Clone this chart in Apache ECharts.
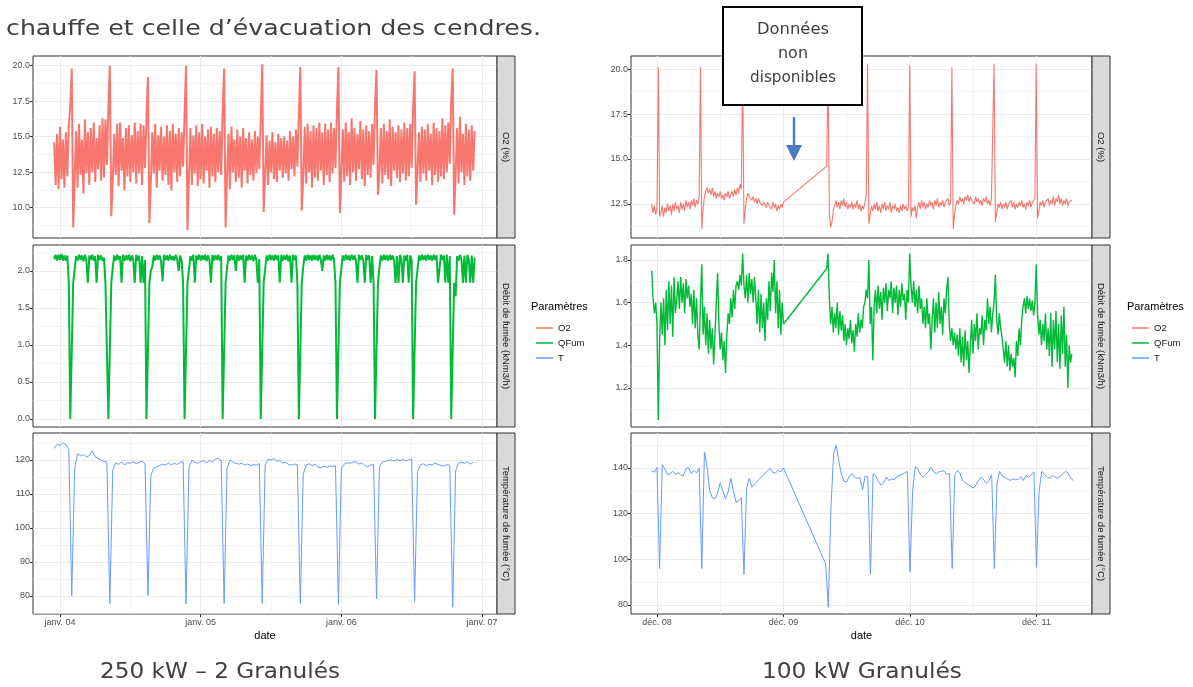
<!DOCTYPE html>
<html>
<head>
<meta charset="utf-8">
<script src="https://cdn.jsdelivr.net/npm/echarts@6/dist/echarts.min.js"></script>
<style>
  html, body { margin: 0; padding: 0; background: #fff; }
  #main { width: 1193px; height: 687px; }
</style>
</head>
<body>
<div id="main"></div>
<script>
// time is in hours since midnight of the first labelled day
const hourTicks = [0, 24, 48, 72];
const hourMinorTicks = [12, 36, 60];
const leftDayLabels = ['janv. 04', 'janv. 05', 'janv. 06', 'janv. 07'];
const rightDayLabels = ['déc. 08', 'déc. 09', 'déc. 10', 'déc. 11'];
const paramNames = ['O2', 'QFum', 'T'];
const facetLabels = ['O2 (%)', 'Débit de fumée (kNm3/h)', 'Température de fumée (°C)'];

// y ticks (major / minor) per facet
const o2LeftTicks = [10, 12.5, 15, 17.5, 20];
const o2LeftMinor = [8.75, 11.25, 13.75, 16.25, 18.75];
const qfumLeftTicks = [0, 0.5, 1, 1.5, 2];
const qfumLeftMinor = [0.25, 0.75, 1.25, 1.75, 2.25];
const tLeftTicks = [80, 90, 100, 110, 120];
const tLeftMinor = [75, 85, 95, 105, 115, 125];
const o2RightTicks = [12.5, 15, 17.5, 20];
const o2RightMinor = [11.25, 13.75, 16.25, 18.75];
const qfumRightTicks = [1.2, 1.4, 1.6, 1.8];
const qfumRightMinor = [1.1, 1.3, 1.5, 1.7];
const tRightTicks = [80, 100, 120, 140];
const tRightMinor = [90, 110, 130, 150];

// 250 kW - 2 granulés : O2 and QFum every 15 min from -1 h, T every 30 min from -1 h
const o2Left = [
  14.6, 11.6, 15.2, 11.3, 15.7, 12.0, 14.8, 11.4, 15.3, 12.2, 15.8, 17.2,
  19.8, 8.6, 12.0, 15.4, 11.4, 15.9, 12.3, 14.8, 11.0, 16.2, 12.4, 15.3, 11.6, 15.6, 12.5, 16.0, 11.8, 14.9, 12.7, 15.8, 11.9, 16.3, 12.1, 16.2, 13.0, 17.0,
  20.0, 9.4, 11.9, 15.2, 12.3, 15.9, 11.5, 16.0, 12.6, 14.9, 11.2, 15.6, 12.2, 15.8, 11.8, 15.1, 12.5, 16.0, 11.7, 15.4, 12.4, 15.9, 11.6, 15.8, 12.8, 16.4,
  19.2, 8.9, 11.8, 15.3, 12.4, 15.9, 11.4, 15.1, 12.6, 15.7, 11.9, 15.0, 12.3, 15.8, 11.6, 15.4, 11.2, 15.9, 12.5, 15.2, 11.8, 15.6, 12.2, 15.3, 12.9, 16.6,
  20.0, 8.4, 12.1, 15.6, 11.6, 15.1, 12.4, 15.8, 11.5, 15.3, 12.0, 15.9, 11.7, 15.0, 12.6, 15.5, 11.4, 15.7, 12.2, 15.2, 11.8, 15.6, 12.5, 15.4, 12.3, 16.8,
  19.8, 8.6, 12.2, 15.2, 11.3, 15.7, 12.5, 14.8, 11.8, 15.5, 12.1, 15.0, 11.4, 15.6, 12.6, 14.9, 11.7, 15.3, 12.3, 14.8, 11.9, 15.4, 12.4, 15.0, 12.7, 16.2,
  20.1, 9.7, 12.3, 15.1, 11.6, 14.7, 12.5, 15.3, 12.0, 14.6, 11.8, 15.2, 12.6, 14.9, 12.1, 15.0, 12.4, 14.7, 11.9, 15.4, 12.7, 15.0, 12.2, 15.5, 12.9, 16.5,
  19.9, 9.8, 12.2, 15.7, 11.7, 15.9, 12.5, 15.4, 11.4, 15.8, 12.1, 15.6, 11.9, 16.0, 12.6, 15.3, 11.6, 15.9, 12.3, 15.5, 11.8, 16.0, 12.4, 15.6, 12.8, 16.8,
  19.9, 9.6, 12.4, 15.5, 11.8, 16.0, 12.2, 15.3, 11.6, 16.3, 12.5, 15.6, 11.9, 15.2, 12.7, 16.1, 12.0, 15.5, 11.5, 15.8, 12.3, 15.4, 12.1, 15.9, 13.0, 17.2,
  19.7, 10.9, 12.5, 15.6, 11.7, 15.9, 12.3, 15.4, 12.0, 16.2, 11.5, 15.7, 12.6, 15.3, 12.1, 15.8, 11.8, 15.5, 12.4, 16.0, 11.9, 15.6, 12.2, 15.9, 12.8, 17.0,
  19.6, 10.2, 12.6, 15.3, 11.8, 15.7, 12.4, 15.5, 11.9, 15.9, 12.6, 15.2, 11.6, 16.0, 12.3, 15.6, 11.8, 15.4, 12.2, 16.3, 12.0, 15.8, 12.5, 16.0, 13.1, 17.5,
  19.8, 9.5, 12.3, 15.6, 11.7, 16.4, 12.5, 15.2, 11.6, 15.9, 12.2, 15.5, 11.9, 15.8, 12.6, 15.4
];
const qfumLeft = [
  2.16, 2.22, 2.14, 2.22, 2.15, 2.23, 2.14, 2.21, 2.14, 2.21, 1.84, 0,
  0, 1.84, 2.02, 2.20, 2.14, 2.22, 2.15, 2.21, 2.13, 2.22, 2.14, 1.84, 2.21, 2.15, 2.22, 2.14, 2.20, 1.84, 2.22, 2.15, 2.21, 2.14, 2.18, 1.84, 1.84, 0,
  0, 1.84, 2.05, 2.21, 2.14, 2.22, 2.15, 2.20, 1.84, 2.22, 2.14, 2.21, 2.15, 2.22, 2.13, 2.21, 2.15, 1.84, 2.22, 2.14, 2.21, 1.84, 2.20, 1.84, 2.15, 0,
  0, 1.84, 2.00, 2.06, 2.21, 2.14, 2.22, 2.15, 2.21, 2.13, 1.86, 2.22, 2.15, 2.21, 2.14, 2.22, 2.15, 2.20, 2.14, 2.22, 2.15, 2.00, 2.21, 2.14, 1.84, 0,
  0, 1.84, 1.84, 2.20, 2.14, 2.22, 1.84, 2.21, 2.15, 2.22, 2.14, 2.21, 2.15, 2.22, 2.13, 2.21, 2.15, 1.84, 2.22, 2.14, 2.21, 2.15, 2.22, 2.14, 2.20, 0,
  0, 1.84, 2.04, 2.21, 2.14, 2.22, 2.15, 2.21, 2.00, 2.22, 2.14, 2.21, 2.15, 2.22, 1.84, 2.21, 2.14, 2.22, 2.15, 2.21, 2.13, 2.22, 2.15, 1.84, 2.16, 0,
  0, 1.84, 2.02, 2.21, 2.14, 2.22, 2.15, 2.21, 2.14, 2.22, 2.15, 2.21, 1.84, 2.22, 2.14, 2.21, 2.15, 2.22, 2.13, 2.21, 1.84, 2.22, 2.15, 2.21, 1.84, 0,
  0, 1.84, 2.06, 2.21, 2.14, 2.22, 2.15, 2.21, 2.14, 2.22, 2.15, 2.21, 2.14, 2.22, 2.15, 2.00, 2.21, 2.14, 2.22, 2.15, 2.21, 2.14, 2.22, 2.15, 1.84, 0,
  0, 1.84, 2.03, 2.21, 2.14, 2.22, 2.15, 2.21, 2.14, 2.22, 2.15, 2.21, 2.14, 1.84, 2.22, 2.15, 2.21, 2.14, 1.84, 2.22, 2.15, 2.21, 1.84, 2.20, 1.84, 0,
  0, 1.84, 2.05, 2.21, 2.14, 2.22, 2.15, 2.21, 2.14, 2.22, 2.15, 2.21, 2.14, 1.84, 2.20, 1.84, 2.22, 2.15, 1.84, 2.21, 2.14, 2.22, 1.84, 2.21, 2.15, 0,
  0, 1.84, 2.02, 2.21, 2.14, 2.22, 2.15, 2.21, 2.14, 2.22, 2.15, 2.21, 2.14, 2.22, 2.15, 2.21, 1.84, 1.84, 2.22, 2.15, 2.21, 1.84, 2.22, 1.84, 2.20, 0,
  0, 1.84, 1.66, 2.20, 2.14, 2.22, 2.15, 1.84, 2.21, 1.84, 2.22, 2.15, 1.84, 2.21, 1.84, 2.18
];
const tLeft = [
  123.4, 124.6, 124.3, 125.1, 124.5, 123.0,
  80.1, 117.5, 121.8, 121.2, 121.6, 120.9, 121.3, 122.6, 121.0, 120.4, 119.9, 119.6, 119.4,
  77.8, 117.0, 119.2, 118.7, 119.4, 118.5, 119.2, 119.0, 119.5, 118.9, 119.3, 119.6, 119.0,
  80.1, 115.5, 117.6, 118.0, 118.4, 118.7, 118.5, 119.1, 118.6, 119.0, 118.7, 119.3, 119.5,
  77.6, 117.8, 119.9, 119.4, 119.0, 119.6, 119.8, 119.2, 119.9, 119.4, 120.2, 120.5, 119.8,
  77.8, 117.5, 120.0, 119.4, 119.0, 118.8, 119.0, 118.5, 118.8, 118.4, 118.6, 118.5, 118.9,
  77.8, 118.5, 120.2, 120.0, 120.4, 119.7, 119.8, 119.1, 119.3, 118.7, 118.5, 118.8, 118.6,
  77.8, 115.8, 118.5, 118.9, 118.3, 118.8, 117.9, 117.7, 118.2, 117.8, 118.3, 118.0, 118.4,
  77.5, 117.6, 118.8, 119.2, 119.0, 119.4, 119.5, 118.8, 119.2, 118.4, 118.0, 118.5, 118.7,
  79.2, 118.0, 119.4, 119.6, 119.9, 120.0, 119.7, 120.1, 119.8, 120.2, 119.7, 120.0, 120.3,
  78.4, 116.5, 118.6, 118.9, 118.3, 118.8, 118.5, 119.1, 118.7, 118.4, 118.2, 118.6, 118.5,
  76.7, 116.8, 119.1, 119.4, 119.0, 119.5, 118.8, 119.4
];

// 100 kW granulés : part A from -1 h, part B after the missing data
// O2 and QFum every 15 min (B from 32.2 h), T every 30 min (B from 32 h)
const o2RightA = [
  12.5, 12.0, 12.4, 11.9, 12.3,
  20.1, 11.8,
  12.0, 12.4, 11.8, 12.3, 12.0, 12.5, 12.1, 12.4, 11.9, 12.5, 12.1, 12.6, 12.2, 12.4, 12.0, 12.6, 12.2, 12.5, 12.1, 12.7, 12.3, 12.6, 12.2, 12.7, 12.4, 12.8, 12.3, 12.7, 12.5, 12.9,
  20.1, 11.1,
  12.2, 12.9, 13.2, 13.4, 13.1, 13.3, 13.0, 13.4, 12.9, 13.2, 12.8, 13.1, 12.9, 13.2, 12.8, 13.0, 12.7, 13.1, 12.9, 13.2, 12.8, 13.0, 13.2, 12.9, 13.3, 13.0, 13.4, 13.1, 13.6, 13.3,
  20.0, 11.4,
  12.2, 12.8, 13.1, 12.9, 13.0, 12.7, 12.9, 12.6, 12.8, 12.5, 12.8, 12.6, 12.7, 12.4, 12.6, 12.5, 12.3, 12.6, 12.4, 12.5, 12.2, 12.6, 12.3, 12.5, 12.1, 12.4, 12.2, 12.5, 12.3, 12.6
];
const o2RightB = [
  14.6, 20.0,
  12.0, 11.2, 11.5, 12.1, 12.4, 12.7, 12.3, 12.6, 12.2, 12.7, 12.4, 12.8, 12.3, 12.6, 12.2, 12.5, 12.3, 12.6, 12.2, 12.5, 12.3, 12.7, 12.2, 12.5, 12.1, 12.4, 12.2, 12.6, 12.9,
  20.3,
  11.4, 11.9, 12.4, 12.1, 12.5, 12.2, 12.6, 12.1, 12.4, 12.0, 12.5, 12.2, 12.6, 12.1, 12.4, 12.2, 12.6, 12.0, 12.4, 12.2, 12.5, 12.1, 12.3, 12.0, 12.4, 12.1, 12.5, 12.2, 12.4, 12.1, 12.3,
  20.2,
  11.8, 12.3, 12.1, 12.4, 11.7, 12.3, 12.6, 12.2, 12.7, 12.3, 12.6, 12.2, 12.5, 12.3, 12.7, 12.4, 12.6, 12.2, 12.7, 12.4, 12.8, 12.3, 12.6, 12.4, 12.7, 12.3, 12.6, 12.5, 12.8, 12.4, 12.6,
  20.1,
  11.1, 11.9, 12.4, 12.7, 12.5, 12.9, 12.6, 12.8, 12.5, 12.9, 12.7, 13.0, 12.6, 12.9, 12.7, 12.8, 12.5, 12.9, 12.6, 12.8, 12.5, 12.7, 12.4, 12.8, 12.6, 12.9, 12.5, 12.7, 12.4, 12.8, 12.9,
  20.3,
  11.5, 12.0, 12.5, 12.3, 12.6, 12.2, 12.5, 12.3, 12.6, 12.2, 12.5, 12.4, 12.7, 12.3, 12.6, 12.2, 12.5, 12.3, 12.6, 12.4, 12.7, 12.3, 12.5, 12.2, 12.6, 12.4, 12.7, 12.3, 12.6, 12.5, 12.8,
  20.3,
  11.7, 12.1, 12.6, 12.4, 12.7, 12.3, 12.6, 12.5, 12.8, 12.4, 12.7, 12.5, 12.9, 12.4, 12.8, 12.6, 13.0, 12.5, 12.8, 12.4, 12.7, 12.5, 12.8, 12.4, 12.6, 12.5, 12.7
];
const qfumRightA = [
  1.75, 1.62, 1.55, 1.60, 1.50,
  1.05,
  1.42, 1.60, 1.45, 1.62, 1.40, 1.66, 1.47, 1.70, 1.50, 1.68, 1.44, 1.72, 1.55,
  1.62, 1.70, 1.57, 1.72, 1.60, 1.69, 1.55, 1.71, 1.62, 1.68, 1.58,
  1.64, 1.50, 1.66, 1.48, 1.62, 1.45, 1.38, 1.60,
  1.78,
  1.45, 1.58, 1.40, 1.55, 1.36, 1.52, 1.38, 1.48, 1.31, 1.45, 1.60,
  1.74,
  1.50, 1.38, 1.46, 1.33, 1.42, 1.27,
  1.45, 1.55, 1.50, 1.62, 1.53, 1.66, 1.57, 1.68,
  1.70, 1.66, 1.73, 1.68,
  1.83,
  1.68, 1.62, 1.73, 1.60, 1.74, 1.64, 1.71, 1.60, 1.72, 1.62,
  1.50, 1.66, 1.46, 1.64, 1.48, 1.60, 1.42,
  1.62, 1.52, 1.70, 1.56, 1.74, 1.65,
  1.80,
  1.55, 1.70, 1.48, 1.66, 1.45, 1.60, 1.50
];
const qfumRightB = [
  1.76, 1.83,
  1.62, 1.50, 1.58, 1.46, 1.55, 1.48, 1.60, 1.45, 1.56, 1.47, 1.54,
  1.42, 1.50, 1.40, 1.48, 1.43, 1.52, 1.41, 1.47, 1.37,
  1.50, 1.44, 1.55, 1.46, 1.52, 1.48, 1.58, 1.60,
  1.66, 1.62, 1.80,
  1.50, 1.58, 1.33,
  1.58, 1.66, 1.55, 1.68, 1.57, 1.65, 1.52, 1.67, 1.60, 1.69, 1.56, 1.66, 1.62, 1.70, 1.55, 1.67, 1.60, 1.68, 1.54, 1.66, 1.58, 1.69, 1.61, 1.64, 1.52, 1.66, 1.60,
  1.83,
  1.68, 1.60, 1.70, 1.58, 1.66, 1.55, 1.68, 1.57, 1.62, 1.50,
  1.58, 1.48, 1.62, 1.50, 1.55, 1.38,
  1.52, 1.62, 1.46, 1.60, 1.48, 1.65, 1.50, 1.58, 1.45, 1.62, 1.55, 1.66,
  1.72,
  1.50, 1.42, 1.48, 1.40, 1.46, 1.38,
  1.45, 1.35, 1.48, 1.32, 1.44, 1.30, 1.47, 1.33, 1.42, 1.27,
  1.40, 1.52, 1.36, 1.50, 1.42, 1.55, 1.38, 1.48, 1.45, 1.54, 1.40, 1.52, 1.47, 1.62,
  1.50, 1.58, 1.46, 1.55, 1.60,
  1.73,
  1.52, 1.45, 1.55, 1.48, 1.44,
  1.38, 1.32, 1.42, 1.30, 1.40, 1.28, 1.36, 1.30, 1.34, 1.25,
  1.42, 1.35, 1.48, 1.40, 1.52,
  1.58, 1.62, 1.55, 1.63, 1.57, 1.62, 1.56, 1.61, 1.54, 1.60,
  1.78,
  1.55, 1.45, 1.52, 1.40, 1.50, 1.42, 1.55, 1.38, 1.48,
  1.35, 1.55, 1.30, 1.52, 1.38, 1.56, 1.32, 1.50, 1.29, 1.54, 1.36, 1.58, 1.30, 1.45, 1.20,
  1.40, 1.32, 1.36
];
const tRightA = [
  138.5, 138.2, 140.2, 96.0, 141.5, 139.5, 137.0,
  137.5, 138.5, 137.2, 138.0, 137.0, 136.5, 139.8, 140.2, 137.5, 139.0, 137.8, 140.0,
  96.0,
  147.0, 140.5, 130.0, 127.0, 126.5, 129.0, 133.5, 130.0, 126.5, 129.5, 135.5, 130.0, 125.0, 125.5, 127.0,
  93.5,
  131.0, 135.5, 131.5, 133.0, 134.0, 135.5, 136.5, 137.5, 139.0, 139.8, 138.0, 137.8, 139.0, 138.3, 140.0
];
const tRightB = [
  98.0, 79.0, 122.0, 146.0, 150.0, 143.0, 137.0, 134.0, 134.0, 136.5, 137.5, 135.8, 135.5, 135.8, 130.5, 136.5, 136.0,
  93.5,
  137.5, 136.5, 134.0, 132.5, 133.5, 136.0, 134.5, 135.2, 134.8, 136.2, 136.8, 137.2, 137.8, 138.5,
  94.5,
  130.0, 140.5, 139.5, 137.0, 136.0, 137.2, 138.5, 140.3, 138.2, 137.5, 138.3, 138.6, 138.8, 137.2, 137.6,
  96.0,
  137.0, 139.0, 137.5, 134.5, 133.5, 132.8, 132.0, 131.2, 132.5, 134.5, 136.0, 134.8, 133.2, 134.5, 137.0,
  96.0,
  133.0, 138.5, 136.5, 135.8, 135.2, 134.5, 135.2, 134.8, 135.0, 136.2, 134.5, 136.8, 136.0, 137.0, 138.3,
  96.5,
  130.0, 138.5, 137.2, 136.0, 135.5, 136.8, 136.0, 135.5, 136.4, 137.5, 138.5, 137.8, 135.5, 134.5
];

// -------------------------------------------------------------------------

function toPoints(start, step, values) {
  return values.map((v, i) => [start + i * step, v]);
}

// slide text is Century Gothic in the original: use DejaVu Sans stretched to the same width
const measureCtx = document.createElement('canvas').getContext('2d');
function stretch(text, size, family, targetWidth) {
  measureCtx.font = size + 'px ' + family;
  return targetWidth / measureCtx.measureText(text).width;
}

const COLORS = ['#F8766D', '#00BA38', '#619CFF'];
const FONT = '"Liberation Sans", Arial, sans-serif';
const DECO = '"DejaVu Sans"';

const rows = [{ top: 56, height: 182 }, { top: 245, height: 182 }, { top: 433, height: 181 }];

const sides = [
  {
    left: 33, width: 464, xMin: -4.61, xMax: 74.56, labels: leftDayLabels,
    data: [toPoints(-1, 0.25, o2Left), toPoints(-1, 0.25, qfumLeft), toPoints(-1, 0.5, tLeft)],
    widths: [2, 2, 1],
    y: [
      { min: 7.86, max: 20.68, major: o2LeftTicks, minor: o2LeftMinor, digits: 1 },
      { min: -0.108, max: 2.351, major: qfumLeftTicks, minor: qfumLeftMinor, digits: 1 },
      { min: 74.7, max: 127.94, major: tLeftTicks, minor: tLeftMinor, digits: 0 }
    ],
    legendX: 531, title: '250 kW – 2 Granulés', titleX: 220, titleW: 240
  },
  {
    left: 631, width: 461, xMin: -4.93, xMax: 82.53, labels: rightDayLabels,
    data: [
      toPoints(-1, 0.25, o2RightA).concat(toPoints(32.2, 0.25, o2RightB)),
      toPoints(-1, 0.25, qfumRightA).concat(toPoints(32.2, 0.25, qfumRightB)),
      toPoints(-1, 0.5, tRightA).concat(toPoints(32, 0.5, tRightB))
    ],
    widths: [1.1, 1.4, 1],
    y: [
      { min: 10.6, max: 20.73, major: o2RightTicks, minor: o2RightMinor, digits: 1 },
      { min: 1.017, max: 1.87, major: qfumRightTicks, minor: qfumRightMinor, digits: 1 },
      { min: 76.06, max: 155.3, major: tRightTicks, minor: tRightMinor, digits: 0 }
    ],
    legendX: 1127, title: '100 kW Granulés', titleX: 862, titleW: 200
  }
];

const grid = [], xAxis = [], yAxis = [], series = [], graphic = [], legend = [];

sides.forEach((side) => {
  rows.forEach((row, r) => {
    const gi = grid.length;
    const bottom = r === 2;
    const yc = side.y[r];
    grid.push({
      left: side.left, top: row.top, width: side.width, height: row.height,
      show: true, backgroundColor: '#fff', borderColor: '#333', borderWidth: 1
    });
    xAxis.push({
      gridIndex: gi, type: 'value', min: side.xMin, max: side.xMax, position: 'bottom',
      axisLine: { show: false, onZero: false },
      axisTick: { show: bottom, customValues: hourTicks, length: 3, lineStyle: { color: '#333' } },
      axisLabel: {
        show: bottom, customValues: hourTicks, color: '#4d4d4d', fontSize: 9, fontFamily: FONT, margin: 4,
        formatter: (v) => side.labels[hourTicks.indexOf(v)]
      },
      splitLine: { show: true, lineStyle: { color: '#ebebeb', width: 1 } },
      name: bottom ? 'date' : '', nameLocation: 'middle', nameGap: 16,
      nameTextStyle: { color: '#000', fontSize: 11, fontFamily: FONT }
    });
    xAxis.push({
      gridIndex: gi, type: 'value', min: side.xMin, max: side.xMax, position: 'bottom',
      axisLine: { show: false, onZero: false }, axisLabel: { show: false },
      axisTick: { show: false, customValues: hourMinorTicks },
      splitLine: { show: true, lineStyle: { color: '#ededed', width: 0.6 } }
    });
    yAxis.push({
      gridIndex: gi, type: 'value', min: yc.min, max: yc.max, position: 'left',
      axisLine: { show: false, onZero: false },
      axisTick: { show: true, customValues: yc.major, length: 3, lineStyle: { color: '#333' } },
      axisLabel: {
        customValues: yc.major, color: '#4d4d4d', fontSize: 9, fontFamily: FONT, margin: 3,
        formatter: (v) => v.toFixed(yc.digits)
      },
      splitLine: { show: true, lineStyle: { color: '#ebebeb', width: 1 } }
    });
    yAxis.push({
      gridIndex: gi, type: 'value', min: yc.min, max: yc.max, position: 'left',
      axisLine: { show: false, onZero: false }, axisLabel: { show: false },
      axisTick: { show: false, customValues: yc.minor },
      splitLine: { show: true, lineStyle: { color: '#ededed', width: 0.6 } }
    });
    series.push({
      type: 'line', name: paramNames[r], xAxisIndex: 2 * gi, yAxisIndex: 2 * gi,
      data: side.data[r], showSymbol: false, symbol: 'none', silent: true,
      lineStyle: { color: COLORS[r], width: side.widths[r] }, itemStyle: { color: COLORS[r] },
      z: 3
    });

    // facet strip on the right of the panel
    const sx = side.left + side.width;
    graphic.push({
      type: 'rect', z: 5,
      shape: { x: sx, y: row.top, width: 18, height: row.height },
      style: { fill: '#d9d9d9', stroke: '#333', lineWidth: 1 }
    });
    graphic.push({
      type: 'text', z: 6, x: sx + 9, y: row.top + row.height / 2, rotation: -Math.PI / 2,
      style: {
        text: facetLabels[r], fill: '#1a1a1a', fontSize: 9.5, fontFamily: FONT,
        align: 'center', verticalAlign: 'middle'
      }
    });
  });

  legend.push({
    data: paramNames, orient: 'vertical', left: side.legendX, top: 318,
    icon: 'rect', itemWidth: 17, itemHeight: 1.5, itemGap: 5, selectedMode: false,
    textStyle: { fontSize: 9.5, color: '#1a1a1a', fontFamily: FONT }
  });
  graphic.push({
    type: 'text', z: 6, x: side.legendX, y: 307,
    style: { text: 'Paramètres', fill: '#000', fontSize: 11, fontFamily: FONT, verticalAlign: 'middle' }
  });
  graphic.push({
    type: 'text', z: 6, x: side.titleX, y: 672,
    scaleX: stretch(side.title, 22, DECO, side.titleW),
    style: { text: side.title, fill: '#404040', fontSize: 22, fontFamily: DECO, align: 'center', verticalAlign: 'middle' }
  });
});

// surrounding slide text and annotation
const introText = 'chauffe et celle d’évacuation des cendres.';
graphic.push({
  type: 'text', z: 6, x: 6, y: 29,
  scaleX: stretch(introText, 22, DECO, 535),
  style: { text: introText, fill: '#404040', fontSize: 22, fontFamily: DECO, verticalAlign: 'middle' }
});
graphic.push({
  type: 'rect', z: 20,
  shape: { x: 723, y: 7, width: 139, height: 98 },
  style: { fill: '#fff', stroke: '#000', lineWidth: 2 }
});
const boxLines = ['Données', 'non', 'disponibles'];
const boxLineWidths = [72, 30, 86];
boxLines.forEach((line, i) => {
  graphic.push({
    type: 'text', z: 21, x: 793, y: 30 + i * 24,
    scaleX: stretch(line, 15, DECO, boxLineWidths[i]),
    style: { text: line, fill: '#404040', fontSize: 15, fontFamily: DECO, align: 'center', verticalAlign: 'middle' }
  });
});
graphic.push({
  type: 'rect', z: 21,
  shape: { x: 792.8, y: 117, width: 2.4, height: 30 },
  style: { fill: '#4a7bbf' }
});
graphic.push({
  type: 'polygon', z: 21,
  shape: { points: [[786, 145], [802, 145], [794, 161]] },
  style: { fill: '#4a7bbf' }
});

const chart = echarts.init(document.getElementById('main'));
chart.setOption({
  backgroundColor: '#fff',
  animation: false,
  grid, xAxis, yAxis, series, legend, graphic
});
</script>
</body>
</html>
